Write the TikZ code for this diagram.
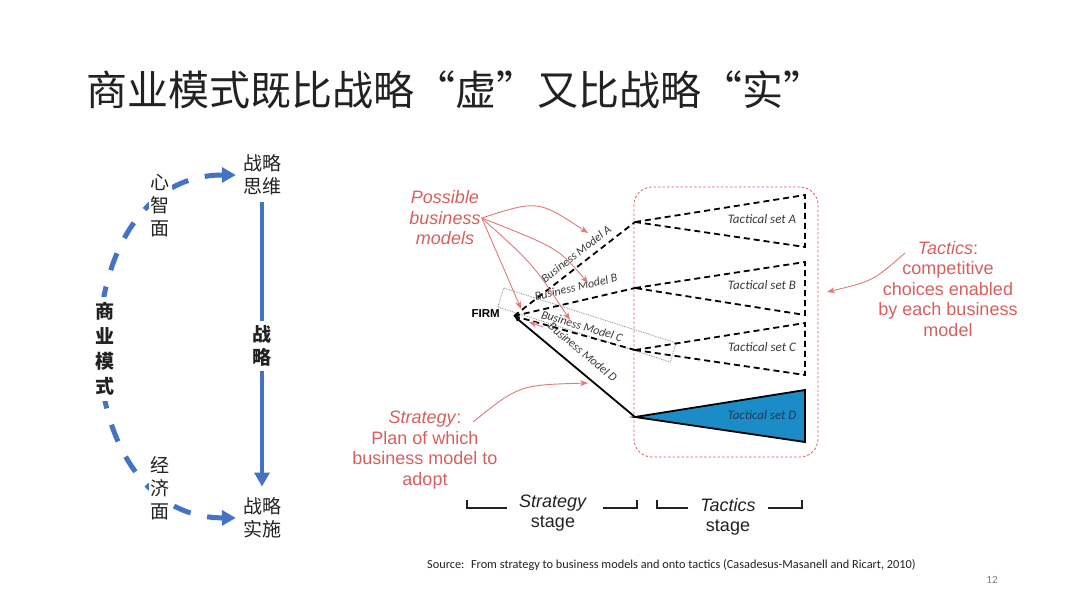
\documentclass[tikz,border=0pt]{standalone}
\usepackage{fontspec}
\setmainfont{Liberation Sans}
\newfontfamily\cjk{Noto Sans CJK SC}
\newfontfamily\calib{Carlito}
\usetikzlibrary{arrows.meta,positioning,calc}
\definecolor{SlideBlue}{HTML}{4472C4}
\definecolor{SetBlue}{HTML}{1C8CC6}
\definecolor{Salmon}{HTML}{D6605E}
\definecolor{SalmonLine}{HTML}{DE7A7A}
\definecolor{Ink}{HTML}{222222}
\definecolor{DotGray}{HTML}{8A8A8A}
\definecolor{SetInk}{HTML}{3A3A3A}
\definecolor{DeepSet}{HTML}{1F3A5A}

\tikzset{
  cjklbl/.style={font=\fontsize{19}{23}\selectfont\cjk,text=Ink},
  redtxt/.style={font=\fontsize{18}{20.5}\selectfont,text=Salmon},
  setlbl/.style={font=\calib\itshape\fontsize{13}{14}\selectfont,text=SetInk},
  bmlbl/.style={font=\calib\itshape\fontsize{12}{13}\selectfont,text=SetInk},
  tacline/.style={draw=black,line width=1.8pt,dash pattern=on 6pt off 4pt},
  redarr/.style={draw=SalmonLine,line width=0.9pt,-{Stealth[length=8pt,width=6pt]}},
  bracket/.style={draw=Ink,line width=2.2pt},
  bmarc/.style={draw=SlideBlue,line width=5pt,dash pattern=on 18pt off 17pt,
    {Triangle[length=14pt,width=15pt]}-{Triangle[length=14pt,width=15pt]}},
  stratline/.style={draw=SlideBlue,line width=4.6pt}
}

\begin{document}
\begin{tikzpicture}[x=1pt,y=-1pt,>=Latex,every node/.style={align=center,inner sep=1pt}]
  \useasboundingbox[fill=white] (0,0) rectangle (1080,608);
  % title
  \node[anchor=west,font=\fontsize{41}{43}\selectfont\cjk,text=Ink] (title) at (85,90) {商业模式既比战略“虚”又比战略“实”};

  % left: business model vs strategy
  \node[cjklbl] (think) at (262,175) {战略\\思维};
  \node[cjklbl] (impl) at (262,518) {战略\\实施};
  \draw[bmarc,shorten <=6pt,shorten >=6pt] (think.west) .. controls (58,175) and (58,517) .. (impl.west);
  \node[cjklbl,fill=white,inner sep=2pt] (mind) at (160,206) {心\\智\\面};
  \node[cjklbl,fill=white,inner sep=2pt] (econ) at (160,488) {经\\济\\面};
  \node[cjklbl,font=\fontsize{19}{25}\selectfont\cjk\bfseries,fill=white,inner sep=5pt,minimum width=40pt] (bm) at (105,349) {商\\业\\模\\式};
  \node[cjklbl,font=\fontsize{19}{23}\selectfont\cjk\bfseries,inner sep=4pt] (strat) at (262,346) {战\\略};
  \draw[stratline,shorten <=6pt] (think.south) -- (strat.north);
  \draw[stratline,-{Triangle[length=14pt,width=15pt]},shorten >=10pt] (strat.south) -- (impl.north);

  % right: firm, business models and tactics
  \node[draw=Salmon,line width=0.8pt,dash pattern=on 2.5pt off 2pt,rounded corners=18pt,
    minimum width=184pt,minimum height=270pt] (tacbox) at (726,322) {};
  \coordinate (firm) at (514,316);
  \node[anchor=east,font=\bfseries\fontsize{11.5}{12}\selectfont,text=black] (firmlbl) at (501,314) {FIRM};
  \node[draw=DotGray,densely dotted,line width=0.8pt,rotate=-17.7,minimum width=181pt,minimum height=20pt] (cbox) at (587,325) {};
  \foreach \s/\ay/\ty/\by/\lx/\ly/\rot in {A/222/195/247/576/254/37.8,B/288/262/315/576/287/13.3,C/350/323/375/582/326/-16.5}{
    \coordinate (ap\s) at (635,\ay);
    \coordinate (top\s) at (805,\ty);
    \coordinate (bot\s) at (805,\by);
    \draw[tacline] (ap\s) -- (top\s) -- (bot\s) -- cycle;
    \node[setlbl] (set\s) at (762,\ay-3) {Tactical set \s};
    \draw[tacline] (firm) -- (ap\s);
    \node[bmlbl,rotate=\rot] (bm\s) at (\lx,\ly) {Business Model \s};
  }
  \coordinate (apD) at (635,417);
  \coordinate (topD) at (805,390);
  \coordinate (botD) at (805,442);
  \filldraw[fill=SetBlue,draw=black,line width=1.8pt] (apD) -- (topD) -- (botD) -- cycle;
  \node[setlbl,text=DeepSet] (setD) at (762,415) {Tactical set D};
  \draw[line width=1.8pt,{Latex[length=6pt,width=5pt]}-] (firm) -- (apD);
  \node[bmlbl,rotate=-39.8] (bmD) at (583,352) {Business Model D};

  % red annotations
  \node[redtxt] (poss) at (445,218) {\textit{Possible}\\\textit{business}\\\textit{models}};
  \coordinate (tipA) at (588,233);
  \coordinate (tipB) at (588,283);
  \coordinate (tipC) at (570,320);
  \coordinate (tipF) at (521,309);
  \coordinate (tipE) at (529,322);
  \coordinate (tailE) at (543,327);
  \draw[redarr] (poss.east) .. controls (538,200) .. (tipA);
  \draw[redarr] (poss.east) .. controls (558,248) .. (tipB);
  \draw[redarr] (poss.east) .. controls (533,264) .. (tipC);
  \draw[redarr] (poss.east) .. controls (504,269) .. (tipF);
  \draw[redarr] (tailE) -- (tipE);

  \node[redtxt] (tacs) at (948,289) {\textit{Tactics}:\\competitive\\choices enabled\\by each business\\model};
  \coordinate (tacsrc) at (905,253);
  \coordinate (tactip) at (827,292);
  \draw[redarr] (tacsrc) .. controls (873,281) .. (tactip);

  \node[redtxt] (strag) at (425,450) {\textit{Strategy}:\\Plan of which\\business model to\\adopt};
  \coordinate (stragsrc) at (473,422);
  \coordinate (stragtip) at (588,383);
  \draw[redarr] (stragsrc) .. controls (519,385) .. (stragtip);

  % stages
  \node[font=\fontsize{18}{20}\selectfont,text=Ink] (sstage) at (553,513) {\textit{Strategy}\\stage};
  \node[font=\fontsize{18}{20}\selectfont,text=Ink] (tstage) at (728,517) {\textit{Tactics}\\stage};
  \draw[bracket] (467,500) -- (467,508) -- (507,508);
  \draw[bracket] (603,508) -- (637,508) -- (637,500);
  \draw[bracket] (657,500) -- (657,508) -- (688,508);
  \draw[bracket] (768,508) -- (802,508) -- (802,500);

  % source and page number
  \node[anchor=west,font=\calib\fontsize{12.3}{13}\selectfont,text=Ink] (src) at (426,565) {Source:~ From strategy to business models and onto tactics (Casadesus-Masanell and Ricart, 2010)};
  \node[font=\calib\fontsize{11}{12}\selectfont,text=gray] (pgno) at (992,580) {12};
\end{tikzpicture}
\end{document}
